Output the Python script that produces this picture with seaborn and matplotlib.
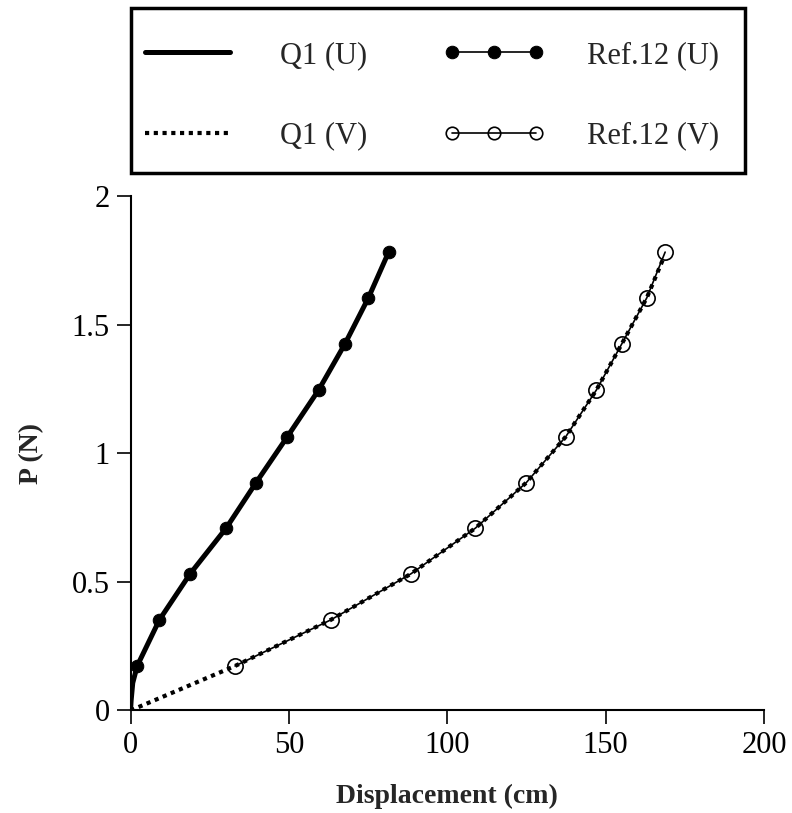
# Load-displacement curves: Q1 element vs. reference solution (Ref.12)
import matplotlib
matplotlib.use("Agg")
import matplotlib.pyplot as plt
from matplotlib.patches import Rectangle
import seaborn as sns
import pandas as pd

OUTPUT_FILE = "out.png"

# reference points (load steps of ~0.178 N)
ref_load = [0.173, 0.352, 0.531, 0.709, 0.885, 1.064, 1.246, 1.425, 1.604, 1.782]
ref_u = [2.1, 9.1, 18.8, 30.2, 39.6, 49.5, 59.4, 67.7, 75.1, 81.5]
ref_v = [33.0, 63.2, 88.5, 108.9, 124.9, 137.4, 147.1, 155.1, 163.0, 168.8]

# Q1 curves
q1_u_load = [0.0, 0.04, 0.107, 0.173, 0.352, 0.531, 0.709, 0.885, 1.064, 1.246, 1.425, 1.604, 1.782]
q1_u = [0.0, 0.2, 0.7, 2.1, 9.1, 18.8, 30.2, 39.6, 49.5, 59.4, 67.7, 75.1, 81.5]
q1_v_load = [0.0, 0.173, 0.352, 0.531, 0.709, 0.885, 1.064, 1.246, 1.425, 1.604, 1.765]
q1_v = [0.0, 33.0, 63.2, 88.5, 108.9, 124.9, 137.4, 147.1, 155.1, 163.0, 168.5]

df_ref = pd.DataFrame({"load": ref_load, "u": ref_u, "v": ref_v})
df_qu = pd.DataFrame({"load": q1_u_load, "disp": q1_u})
df_qv = pd.DataFrame({"load": q1_v_load, "disp": q1_v})

sns.set_theme(style="ticks")
plt.rcParams["font.family"] = ["Liberation Serif", "DejaVu Serif"]

W, H = 792, 813
fig = plt.figure(figsize=(W / 100, H / 100), dpi=100)
ax = fig.add_axes([0.1648, 0.1261, 0.7998, 0.6328])

sns.lineplot(data=df_ref, x="u", y="load", color="black", lw=1.2, marker="o",
             markersize=9, markeredgecolor="black", label="Ref.12 (U)", ax=ax, zorder=2)
sns.lineplot(data=df_ref, x="v", y="load", color="black", lw=1.2, marker="o",
             markersize=11, markerfacecolor="none", markeredgecolor="black",
             markeredgewidth=1.2, label="Ref.12 (V)", ax=ax, zorder=2)
sns.lineplot(data=df_qu, x="disp", y="load", color="black", lw=3.6,
             label="Q1 (U)", ax=ax, zorder=1)
sns.lineplot(data=df_qv, x="disp", y="load", color="black", lw=3.0,
             dashes=False, label="Q1 (V)", ax=ax, zorder=3)
ax.lines[-1].set_linestyle((0, (1, 1.1)))

ax.set_xlim(0, 200)
ax.set_ylim(0, 2)
ax.set_xticks([0, 50, 100, 150, 200])
ax.set_yticks([0, 0.5, 1, 1.5, 2])
ax.set_yticklabels(["0", "0.5", "1", "1.5", "2"])
ax.tick_params(direction="out", length=10, width=1.2, labelsize=22, colors="black", pad=5)
for side in ["left", "bottom"]:
    ax.spines[side].set_linewidth(1.5)
    ax.spines[side].set_color("black")
sns.despine(ax=ax)
ax.set_xlabel("Displacement (cm)", fontsize=20, fontweight="bold", labelpad=17)
ax.set_ylabel("P (N)", fontsize=20, fontweight="bold", labelpad=20)

# legend on top, filled column by column; frame drawn separately
h, l = ax.get_legend_handles_labels()
order = [2, 3, 0, 1]
ax.get_legend().remove()
leg = fig.legend([h[i] for i in order], [l[i] for i in order], ncol=2,
                 bbox_to_anchor=(136 / W, 1 - 41 / H), loc="upper left",
                 borderaxespad=0, borderpad=0, fontsize=22, numpoints=3,
                 handlelength=3.37, handletextpad=1.35, columnspacing=2.45,
                 labelspacing=1.68, frameon=False)
leg.legend_handles[3].set_markersize(9)
fig.patches.append(Rectangle((131 / W, 1 - 173 / H), 614 / W, 165 / H,
                             transform=fig.transFigure, fill=False,
                             edgecolor="black", linewidth=2.5))

plt.savefig(OUTPUT_FILE, dpi=100)
plt.close()
